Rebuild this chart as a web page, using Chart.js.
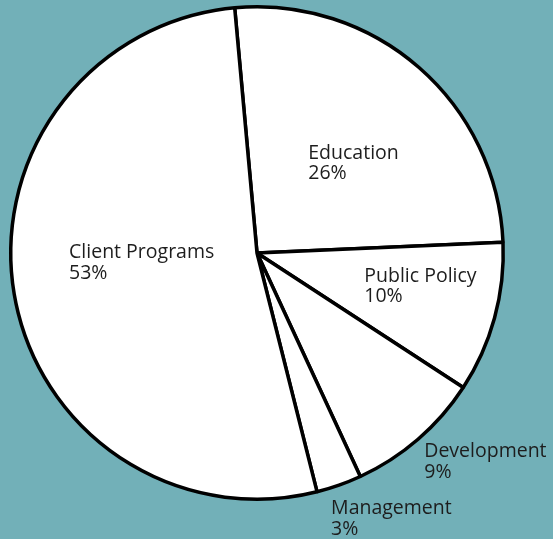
<!DOCTYPE html>
<html>
<head>
<meta charset="utf-8">
<script src="https://cdn.jsdelivr.net/npm/chart.js@4.4.0/dist/chart.umd.min.js"></script>
<style>
  html, body { margin: 0; padding: 0; background: #72b0b8; }
  #wrap { width: 553px; height: 539px; position: relative; }
</style>
</head>
<body>
<div id="wrap"><canvas id="pie"></canvas></div>
<script>
// data
var categories = ["Education", "Public Policy", "Development", "Management", "Client Programs"];
var percentages = [26, 10, 9, 3, 53];

// where each label sits: [angle shift from slice middle (deg), distance as share of radius]
var labelPlace = [[-11.8, 0.425], [1.4, 0.455], [2.0, 1.083], [3.8, 1.115], [7.0, 0.764]];

var sliceLabels = {
    id: "sliceLabels",
    afterDatasetsDraw: function (chart) {
        var ctx = chart.ctx;
        var meta = chart.getDatasetMeta(0);
        ctx.save();
        ctx.font = "19.5px 'Open Sans'";
        ctx.fillStyle = "#1d1d1d";
        ctx.textAlign = "left";
        ctx.textBaseline = "alphabetic";
        meta.data.forEach(function (arc, i) {
            var p = arc.getProps(["x", "y", "startAngle", "endAngle", "outerRadius"], true);
            var mid = (p.startAngle + p.endAngle) / 2 + labelPlace[i][0] * Math.PI / 180;
            var r = p.outerRadius * labelPlace[i][1];
            var x = p.x + Math.cos(mid) * r;
            var y = p.y + Math.sin(mid) * r;
            var base = y - 3.25;
            ctx.fillText(categories[i], x, base);
            ctx.fillText(percentages[i] + "%", x, base + 20.5);
        });
        ctx.restore();
    }
};

var ctx = document.getElementById("pie").getContext("2d");
var myChart = new Chart(ctx, {
    type: "pie",
    data: {
        labels: categories,
        datasets: [{
            data: percentages,
            backgroundColor: "#ffffff",
            borderColor: "#000000",
            borderWidth: 3.5
        }]
    },
    options: {
        responsive: true,
        maintainAspectRatio: false,
        animation: false,
        rotation: -5.2,
        layout: { padding: { left: 9, right: 48, top: 5, bottom: 38 } },
        plugins: {
            legend: { display: false },
            tooltip: { enabled: false }
        }
    },
    plugins: [sliceLabels]
});
</script>
</body>
</html>
